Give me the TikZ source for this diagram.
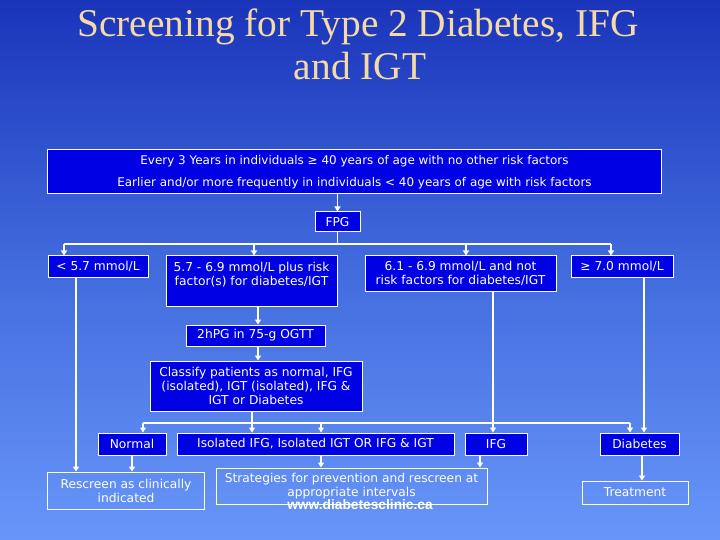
\documentclass[tikz,border=0pt]{standalone}
\usepackage{fontspec}
\usetikzlibrary{arrows.meta}
\newfontfamily\vfont{DejaVu Sans}
\newfontfamily\tfont{Liberation Serif}
\newfontfamily\wfont{Liberation Sans}
\definecolor{bgtop}{RGB}{26,52,186}
\definecolor{bgmid}{RGB}{66,108,222}
\definecolor{bgbot}{RGB}{104,150,248}
\definecolor{boxblue}{RGB}{0,0,228}
\definecolor{titlecol}{RGB}{245,218,165}
\tikzset{
  fbox/.style={draw=white, line width=1bp, fill=boxblue, text=white, inner sep=0pt, align=center,
    font=\vfont\fontsize{12.3}{14}\selectfont},
  obox/.style={fbox, fill=none},
  arr/.style={draw=white, line width=1.5bp, -{Triangle[length=5bp,width=6bp]}},
  ln/.style={draw=white, line width=1.5bp},
}
\begin{document}
\begin{tikzpicture}[x=1bp,y=-1bp]
\useasboundingbox (0,0) rectangle (720,540);
\shade[top color=bgtop, bottom color=bgbot, middle color=bgmid] (0,0) rectangle (720,540);
% title
\node[font=\tfont\fontsize{39.5}{43}\selectfont, text=titlecol, anchor=base] (t1) at (358,37) {Screening for Type 2 Diabetes, IFG};
\node[font=\tfont\fontsize{39.5}{43}\selectfont, text=titlecol, anchor=base] (t2) at (360,80) {and IGT};
% boxes
\node[fbox, minimum width=613bp, minimum height=44bp, font=\vfont\fontsize{12}{22}\selectfont] (top) at (354.5,172)
  {Every 3 Years in individuals ≥ 40 years of age with no other risk factors\\Earlier and/or more frequently in individuals < 40 years of age with risk factors};
\node[fbox, minimum width=45bp, minimum height=20bp] (fpg) at (337.5,222) {FPG};
\node[fbox, minimum width=100bp, minimum height=21bp] (lt) at (98,266.5) {< 5.7 mmol/L};
\node[fbox, minimum width=171bp, minimum height=50bp] (m57) at (251.5,281) {5.7 - 6.9 mmol/L plus risk\\factor(s) for diabetes/IGT\\ \mbox{}};
\node[fbox, minimum width=191bp, minimum height=35bp] (m61) at (460.5,273.5) {6.1 - 6.9 mmol/L and not\\risk factors for diabetes/IGT};
\node[fbox, minimum width=102bp, minimum height=21bp] (ge7) at (622,266.5) {≥ 7.0 mmol/L};
\node[fbox, minimum width=139bp, minimum height=21bp] (ogtt) at (255.5,335.5) {2hPG in 75-g OGTT};
\node[fbox, minimum width=212bp, minimum height=50bp] (cls) at (256,386) {Classify patients as normal, IFG\\(isolated), IGT (isolated), IFG \&\\IGT or Diabetes};
\node[fbox, minimum width=68bp, minimum height=22bp] (norm) at (132,444) {Normal};
\node[fbox, minimum width=277bp, minimum height=22bp] (iso) at (315.5,444) {Isolated IFG, Isolated IGT OR IFG \& IGT};
\node[fbox, minimum width=62bp, minimum height=22bp] (ifg) at (496,444) {IFG};
\node[fbox, minimum width=79bp, minimum height=22bp] (diab) at (639.5,444) {Diabetes};
\node[obox, minimum width=156bp, minimum height=37bp] (rs) at (126,490.5) {Rescreen as clinically\\indicated};
\node[obox, minimum width=271bp, minimum height=36bp] (strat) at (351.5,486) {Strategies for prevention and rescreen at\\appropriate intervals};
\node[obox, minimum width=106bp, minimum height=23bp] (treat) at (635,492.5) {Treatment};
\node[font=\wfont\bfseries\fontsize{13.8}{15}\selectfont, text=white] (www) at (360,505) {www.diabetesclinic.ca};
% x positions
\coordinate (xa) at (64,244);
\coordinate (xb) at (254,244);
\coordinate (xc) at (466,244);
\coordinate (xd) at (611,244);
\coordinate (xL) at (76,0);
\coordinate (xm) at (258,0);
\coordinate (xk) at (252,0);
\coordinate (y2a) at (143,423);
\coordinate (y2b) at (321,423);
\coordinate (y2c) at (630,423);
\coordinate (x61) at (493,0);
\coordinate (x7) at (644,0);
\coordinate (xn) at (132,0);
\coordinate (xi) at (480,0);
\coordinate (xt) at (642,0);
% connectors
\draw[arr] (fpg.north |- top.south) -- (fpg.north);
\draw[ln] (fpg.south) -- (fpg.south |- xa);
\draw[ln] (xa) -- (xd);
\draw[arr] (xa) -- (xa |- lt.north);
\draw[arr] (xb) -- (xb |- m57.north);
\draw[arr] (xc) -- (xc |- m61.north);
\draw[arr] (xd) -- (xd |- ge7.north);
\draw[arr] (lt.south -| xL) -- (rs.north -| xL);
\draw[arr] (m57.south -| xm) -- (ogtt.north -| xm);
\draw[arr] (ogtt.south -| xm) -- (cls.north -| xm);
\draw[arr] (cls.south -| xk) -- (iso.north -| xk);
\draw[ln] (y2a) -- (y2c);
\draw[arr] (y2a) -- (y2a |- norm.north);
\draw[arr] (y2b) -- (y2b |- iso.north);
\draw[arr] (y2c) -- (y2c |- diab.north);
\draw[arr] (m61.south -| x61) -- (ifg.north -| x61);
\draw[arr] (ge7.south -| x7) -- (diab.north -| x7);
\draw[arr] (norm.south -| xn) -- (rs.north -| xn);
\draw[arr] (iso.south -| y2b) -- (strat.north -| y2b);
\draw[arr] (ifg.south -| xi) -- (strat.north -| xi);
\draw[arr] (diab.south -| xt) -- (treat.north -| xt);
\end{tikzpicture}
\end{document}
